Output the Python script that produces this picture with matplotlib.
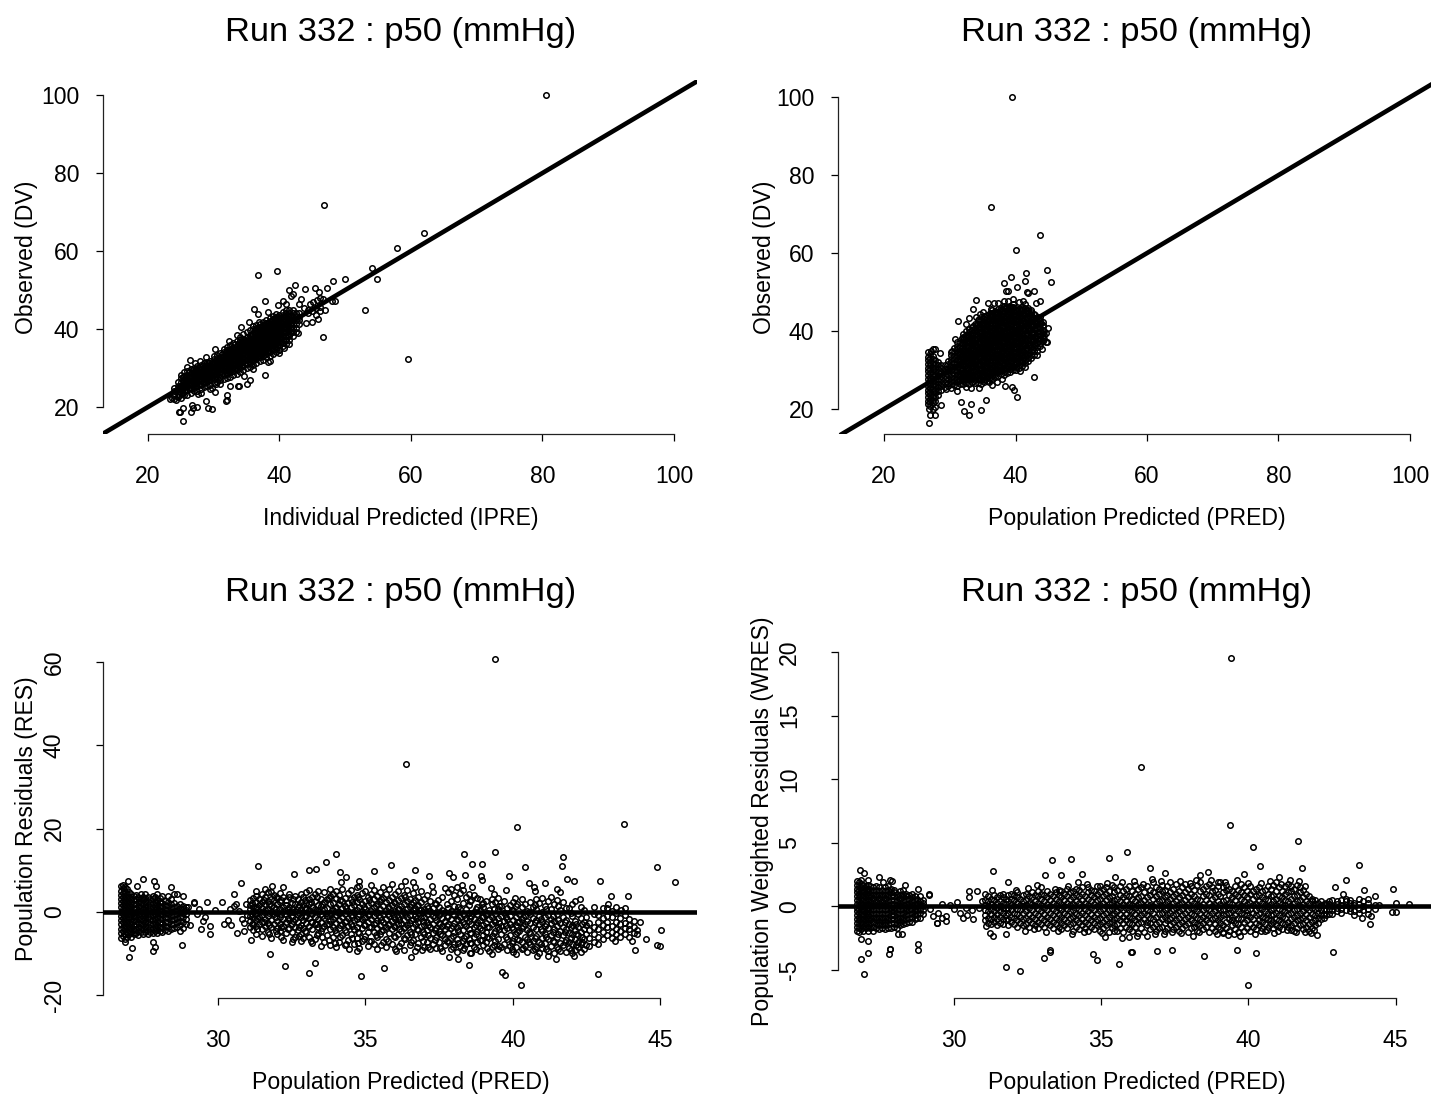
import matplotlib
matplotlib.use("Agg")
import matplotlib.pyplot as plt

plt.rcParams['font.family'] = ['Liberation Sans', 'DejaVu Sans']
plt.rcParams['axes.unicode_minus'] = False

W, H = 1431, 1097
TITLE = "Run 332 : p50 (mmHg)"
x_labels = ["Individual Predicted (IPRE)", "Population Predicted (PRED)", "Population Predicted (PRED)", "Population Predicted (PRED)"]
y_labels = ["Observed (DV)", "Observed (DV)", "Population Residuals (RES)", "Population Weighted Residuals (WRES)"]
ticks_xy = [20, 40, 60, 80, 100]
ticks_x_pred = [30, 35, 40, 45]
ticks_res = [-20, 0, 20, 40, 60]
ticks_wres = [-5, 0, 5, 10, 15, 20]

# Panel 1: (IPRE, DV) scattered points
p1_points = [(80.5,100),(46.8,71.7),(36.7,53.8),(39.6,54.9),(42.4,51.3),(41.5,50),(43.9,50.2),(45.4,50.5),(47.2,50.5),(48.1,52.3),(50,52.8),(54.1,55.7),(54.8,52.8),(57.9,60.8),(62,64.7),(53,44.9),(59.5,32.2),(46.6,37.9),(37.8,28.2),(37.8,47.2),(36.1,45.1),(30.2,34.9),(26.4,32),(25.9,30.3),(25.3,16.4),(24.7,18.6),(24.9,18.6),(26.5,18.7),(25.3,19.8),(27.5,20),(26.7,20.5),(26.9,19.8),(28.8,21.5),(29.1,19.7),(29.7,19.5),(32,21.8),(32,23),(31.9,21.5),(30.2,23.9),(29.8,24.8),(32.5,25.4),(33.7,25.4),(33.9,25.4),(35,25.9),(35.5,26.9),(30.9,26),(30.3,26),(41.4,36.2),(40,33.8),(42.8,39),(44,41.5),(44.9,41.8),(45.9,42.6),(46.9,44.9),(48.4,47.2),(48,47.3),(46.6,47.7),(43.3,47.7),(41.8,48.5),(42,49),(46,49.5),(45.7,47.5),(46.2,47.9),(45.1,47),(44.6,46.5),(45.6,45.4),(46.1,44.5),(46.2,45.6),(45,44.6),(44.3,44),(45.6,43.6),(43,46.4),(43.8,45.5),(44.4,45),(39.8,46.1),(40.6,47.2),(41,46.4),(38.2,44.4),(36.7,43.8),(36.9,41.9),(35.4,41.9),(34.2,40.5),(33.5,38.5),(32.3,36.8),(28.8,32.8),(27.9,31.7),(27.2,31.4),(23.3,22),(23.6,22.3),(24.2,21.8),(28,23.6),(29.4,24.7),(27.6,23.4),(38.2,31.5),(38.6,31.8),(39.9,34.6),(40.7,35.2),(36,29.8),(34.6,28)]
# Panel 1 dense band: IPRE value, then the DV values at it
p1_band = [
(24.0,[22.1,23.0,24.1,25.0]),(24.5,[22.6,23.4,24.6,25.5,26.4]),(25.0,[22.4,23.5,24.3,25.4,26.3,27.4,28.3]),
(25.5,[23.1,24.0,25.1,25.9,27.0,27.9,28.9]),(26.0,[23.2,24.4,25.3,26.4,27.2,28.3,29.3]),(26.5,[23.6,24.6,25.7,26.6,27.7,28.6,29.8]),
(27.0,[24.1,25.0,26.1,27.0,28.1,29.0,30.1]),(27.5,[24.2,25.4,26.4,27.4,28.4,29.4,30.4]),(28.0,[24.6,25.7,26.7,27.7,28.7,29.7,30.8]),
(28.5,[25.1,26.1,27.1,28.1,29.1,30.1,31.2]),(29.0,[25.3,26.4,27.4,28.4,29.4,30.4,31.5]),(29.5,[25.7,26.8,27.8,28.8,29.8,30.8,31.9]),
(30.0,[26.1,27.2,28.2,29.2,30.2,31.2,32.2,33.0]),(30.5,[26.3,27.5,28.5,29.5,30.5,31.5,32.5,33.4]),(31.0,[26.8,27.8,28.9,29.9,30.9,31.9,32.9,33.9]),
(31.5,[27.1,28.2,29.2,30.2,31.2,32.2,33.2,34.2,35.0]),(32.0,[27.4,28.5,29.6,30.6,31.6,32.6,33.6,34.6,35.4]),(32.5,[27.7,28.9,29.9,30.9,31.9,32.9,33.9,34.9,35.9]),
(33.0,[28.1,29.2,30.3,31.3,32.3,33.3,34.3,35.3,36.3]),(33.5,[28.4,29.6,30.6,31.6,32.6,33.6,34.6,35.6,36.8]),(34.0,[29.1,30.1,31.1,32.1,33.1,34.1,35.1,36.1,37.1,37.9]),
(34.5,[29.6,30.5,31.5,32.5,33.5,34.5,35.5,36.5,37.5,38.7]),(35.0,[30.1,31.0,32.0,33.0,34.0,35.0,36.0,37.0,38.0,39.2]),(35.5,[30.3,31.4,32.4,33.4,34.4,35.4,36.4,37.4,38.4,39.8]),
(36.0,[30.7,31.8,32.8,33.8,34.8,35.8,36.8,37.8,38.8,39.9,40.8]),(36.5,[31.2,32.2,33.2,34.2,35.2,36.2,37.2,38.2,39.2,40.2,41.0]),(37.0,[31.7,32.7,33.7,34.7,35.7,36.7,37.7,38.7,39.7,40.6,41.4]),
(37.5,[32.1,33.1,34.1,35.1,36.1,37.1,38.1,39.1,40.1,41.0,41.9]),(38.0,[32.7,33.6,34.6,35.6,36.6,37.6,38.6,39.6,40.6,41.5,42.4]),(38.5,[33.2,34.1,35.1,36.1,37.1,38.1,39.1,40.1,41.1,42.0,42.9]),
(39.0,[33.6,34.6,35.6,36.6,37.6,38.6,39.6,40.6,41.6,42.5,43.4]),(39.5,[34.1,35.1,36.1,37.1,38.1,39.1,40.1,41.1,42.1,43.0,43.9]),(40.0,[34.6,35.6,36.6,37.6,38.6,39.6,40.6,41.6,42.6,43.6]),
(40.5,[35.6,36.5,37.5,38.5,39.5,40.5,41.5,42.5,43.5,44.4]),(41.0,[36.2,37.2,38.2,39.2,40.2,41.2,42.2,43.2,44.2,44.9]),(41.5,[37.1,38.1,39.1,40.1,41.1,42.1,43.1,44.1,45.0]),
(42.0,[38.2,39.2,40.2,41.2,42.2,43.2,44.2,44.9]),(42.5,[39.3,40.3,41.3,42.3,43.3,44.0]),(43.0,[41.2,42.2,43.2,44.1]),
(24.7,[23.0,24.0,25.1]),(25.3,[23.7,24.8,25.7,26.7,27.6]),(25.8,[24.4,25.6,26.7,27.6]),(26.3,[24.9,26.0,27.0,28.0,29.0]),(26.8,[25.3,26.4,27.4,28.4,29.4]),(27.3,[25.7,26.7,27.8,28.8,29.8]),(27.8,[26.0,27.1,28.1,29.1,30.1]),(28.3,[26.5,27.5,28.5,29.5,30.5]),(28.8,[26.9,27.9,28.9,29.9,30.9]),(29.3,[27.2,28.2,29.2,30.2,31.2]),(29.8,[27.6,28.6,29.6,30.6,31.6]),(30.3,[28.0,29.0,30.0,31.0,32.0]),(30.8,[28.4,29.4,30.4,31.4,32.4]),(31.3,[28.7,29.7,30.7,31.7,32.7,33.7]),(31.8,[29.1,30.1,31.1,32.1,33.1,34.1]),(32.3,[29.4,30.4,31.4,32.4,33.4,34.4]),(32.8,[29.8,30.8,31.8,32.8,33.8,34.8]),(33.3,[30.1,31.1,32.1,33.1,34.1,35.1,36.1]),(33.8,[30.4,31.4,32.4,33.4,34.4,35.4,36.4]),(34.3,[30.8,31.8,32.8,33.8,34.8,35.8,36.8]),(34.8,[31.3,32.3,33.3,34.3,35.3,36.3,37.3]),(35.3,[31.8,32.8,33.8,34.8,35.8,36.8,37.8]),(35.8,[32.3,33.3,34.3,35.3,36.3,37.3,38.3]),(36.3,[32.7,33.7,34.7,35.7,36.7,37.7,38.7,39.7]),(36.8,[33.2,34.2,35.2,36.2,37.2,38.2,39.2,40.2]),(37.3,[33.6,34.6,35.6,36.6,37.6,38.6,39.6,40.6]),(37.8,[34.1,35.1,36.1,37.1,38.1,39.1,40.1,41.1]),(38.3,[34.6,35.6,36.6,37.6,38.6,39.6,40.6,41.6]),(38.8,[35.1,36.1,37.1,38.1,39.1,40.1,41.1,42.1]),(39.3,[35.6,36.6,37.6,38.6,39.6,40.6,41.6,42.6]),(39.8,[36.1,37.1,38.1,39.1,40.1,41.1,42.1,43.1]),(40.3,[36.7,37.7,38.7,39.7,40.7,41.7,42.7]),(40.8,[37.3,38.3,39.3,40.3,41.3,42.3,43.3]),(41.3,[38.4,39.4,40.4,41.4,42.4,43.4]),(41.8,[39.3,40.3,41.3,42.3,43.3]),
]

# Panel 2: (PRED, DV) scattered points
p2_points = [(39.4,100),(36.3,71.7),(43.65,64.7),(40.04,60.7),(44.76,55.7),(45.37,52.7),(41.62,55),(41.52,52.8),(39.28,53.9),(38.27,52.4),(40.3,51.4),(38.8,50.4),(38.5,50.2),(42.84,50.4),(41.7,50),(41.9,49.7),(33.95,48),(31.26,42.6),(30.75,37.9),(33.5,45.6),(32.99,43.3),(32.48,41.7),(34.05,43.6),(35.78,47.2),(43.8,47.7),(43.14,47.2),(44.92,40.7),(44.82,37.1),(44.7,37.2),(44.05,35.3),(42.79,28.1),(26.9,16.5),(27,18.5),(27.76,18.5),(28.72,21.1),(26.8,19.9),(27.4,20),(27.8,20.5),(31.67,21.8),(33.19,21.4),(35.58,22.2),(32.18,19.4),(33,18.6),(34.77,19.7),(40.2,23),(39.54,25.6),(39.7,24.9),(38.42,25.9),(36.44,26.1),(31.11,24.6),(33.19,25.5),(34.5,25.5),(32.4,25.6),(26.74,34.6),(27.4,35.5),(27.76,35.5),(28.52,34.4),(27.1,34.8),(30.3,35),(31.82,38.3),(32.18,38.3),(36.8,47.3),(37.4,47.3),(38.2,47.6),(38.8,47.8),(39.6,48.3),(40.5,47.5),(41.2,47.8),(41.5,47),(41.9,46),(42.3,45.3),(35.0,45),(34.6,44.5),(43.9,42),(44.2,41.5),(44.6,39.5),(36.2,45.6),(37.0,44.8),(43.3,33.8),(41.4,30.8),(40.7,29.7),(37.2,27),(38.0,27.6),(35.9,26.9),(30.2,25.3),(29.4,25.1)]
# Panel 2 dense body: PRED value, then the DV values at it
p2_body = [
(26.75,[21.2,22.1,23.0,24.0,24.9,25.9,26.8,27.8,28.7,29.7,30.6,31.6,32.5,33.4]),(27.05,[20.8,21.7,22.6,23.6,24.5,25.5,26.4,27.4,28.3,29.3,30.2,31.2,32.1,33.1,34.0]),
(27.4,[21.5,22.4,23.3,24.3,25.2,26.2,27.1,28.1,29.0,30.0,30.9,31.9,32.8,33.6]),(27.75,[22.0,23.0,24.0,24.9,25.9,26.8,27.8,28.7,29.7,30.6,31.6,32.5]),
(28.2,[23.7,24.6,25.6,26.5,27.5,28.4,29.4,30.3,31.2,32.0]),(28.7,[24.8,25.8,26.7,27.7,28.6,29.6,30.5,31.3]),(29.2,[25.7,26.6,27.6,28.5,29.5,30.4,31.2]),
(29.7,[25.9,26.8,27.8,28.7,29.7,30.6,31.5,32.4]),(30.2,[26.3,27.2,28.2,29.1,30.1,31.0,32.0,32.9,33.8,34.6]),(30.65,[26.2,27.1,28.0,29.0,29.9,30.9,31.8,32.8,33.7,34.7,35.6]),
(31.1,[26.0,26.9,27.8,28.8,29.7,30.7,31.6,32.6,33.5,34.5,35.4,36.3,37.1]),(31.55,[26.5,27.4,28.4,29.3,30.3,31.2,32.2,33.1,34.1,35.0,36.0,36.9]),
(32.0,[26.3,27.2,28.1,29.1,30.0,31.0,31.9,32.9,33.8,34.8,35.7,36.7,37.6,38.4,39.2]),(32.45,[26.7,27.6,28.6,29.5,30.5,31.4,32.4,33.3,34.3,35.2,36.2,37.1,38.1,39.0,39.9]),
(32.9,[26.5,27.4,28.3,29.3,30.2,31.2,32.1,33.1,34.0,35.0,35.9,36.9,37.8,38.8,39.7,40.6]),(33.35,[26.9,27.9,28.8,29.8,30.7,31.7,32.6,33.6,34.5,35.5,36.4,37.4,38.3,39.3,40.2,41.1]),
(33.8,[26.6,27.5,28.5,29.4,30.4,31.3,32.3,33.2,34.2,35.1,36.1,37.0,38.0,38.9,39.9,40.8,41.7]),(34.25,[26.8,27.7,28.7,29.6,30.6,31.5,32.5,33.4,34.4,35.3,36.3,37.2,38.2,39.1,40.1,41.0,41.9,42.8]),
(34.7,[26.5,27.4,28.4,29.3,30.3,31.2,32.2,33.1,34.1,35.0,36.0,36.9,37.9,38.8,39.8,40.7,41.7,42.6,43.5]),(35.15,[26.9,27.8,28.8,29.7,30.7,31.6,32.6,33.5,34.5,35.4,36.4,37.3,38.3,39.2,40.2,41.1,42.1,43.0,43.9]),
(35.6,[27.3,28.2,29.2,30.1,31.1,32.0,33.0,33.9,34.9,35.8,36.8,37.7,38.7,39.6,40.6,41.5,42.5,43.4,44.2]),(36.05,[27.8,28.7,29.6,30.6,31.5,32.5,33.4,34.4,35.3,36.3,37.2,38.2,39.1,40.1,41.0,42.0,42.9,43.9,44.7]),
(36.5,[27.6,28.6,29.5,30.5,31.4,32.4,33.3,34.3,35.2,36.2,37.1,38.1,39.0,40.0,40.9,41.9,42.8,43.8,44.7,45.5]),(36.95,[28.2,29.1,30.1,31.0,32.0,32.9,33.9,34.8,35.8,36.7,37.7,38.6,39.6,40.5,41.5,42.4,43.4,44.3,45.2]),
(37.4,[28.5,29.4,30.4,31.3,32.3,33.2,34.2,35.1,36.1,37.0,38.0,38.9,39.9,40.8,41.8,42.7,43.7,44.6,45.6]),(37.85,[28.9,29.9,30.8,31.8,32.7,33.7,34.6,35.6,36.5,37.5,38.4,39.4,40.3,41.3,42.2,43.2,44.1,45.1,46.0]),
(38.3,[28.7,29.6,30.6,31.5,32.5,33.4,34.4,35.3,36.3,37.2,38.2,39.1,40.1,41.0,42.0,42.9,43.9,44.8,45.8,46.5]),(38.75,[29.2,30.2,31.1,32.1,33.0,34.0,34.9,35.9,36.8,37.8,38.7,39.7,40.6,41.6,42.5,43.5,44.4,45.4,46.3]),
(39.2,[29.5,30.4,31.4,32.3,33.3,34.2,35.2,36.1,37.1,38.0,39.0,39.9,40.9,41.8,42.8,43.7,44.7,45.6,46.5]),(39.65,[29.9,30.9,31.8,32.8,33.7,34.7,35.6,36.6,37.5,38.5,39.4,40.4,41.3,42.3,43.2,44.2,45.1,46.1,46.9]),
(40.1,[29.9,30.9,31.8,32.8,33.7,34.7,35.6,36.6,37.5,38.5,39.4,40.4,41.3,42.3,43.2,44.2,45.1,46.0]),(40.55,[30.5,31.4,32.4,33.3,34.3,35.2,36.2,37.1,38.1,39.0,40.0,40.9,41.9,42.8,43.8,44.7,45.6]),
(41.0,[31.0,32.0,32.9,33.9,34.8,35.8,36.7,37.7,38.6,39.6,40.5,41.5,42.4,43.4,44.3,45.3,46.1]),(41.45,[31.7,32.6,33.6,34.5,35.5,36.4,37.4,38.3,39.3,40.2,41.2,42.1,43.1,44.0,45.0,45.8]),
(41.9,[32.3,33.2,34.2,35.1,36.1,37.0,38.0,38.9,39.9,40.8,41.8,42.7,43.7,44.6,45.4]),(42.35,[33.0,33.9,34.9,35.8,36.8,37.7,38.7,39.6,40.6,41.5,42.5,43.4,44.4,45.0]),
(42.8,[33.9,34.8,35.8,36.7,37.7,38.6,39.6,40.5,41.5,42.4,43.4,44.3]),(43.25,[35.0,36.0,36.9,37.9,38.8,39.8,40.7,41.7,42.6,43.5]),(43.7,[36.1,37.0,38.0,38.9,39.9,40.8,41.8,42.7,43.6]),
(44.15,[37.5,38.5,39.4,40.4,41.3,42.3]),
(33.1,[27.9,29.8,31.6,33.5,35.4,37.3,39.2]),(33.6,[28.1,30.0,31.8,33.7,35.6,37.5,39.4,41.3]),(34.0,[28.2,30.1,32.0,33.9,35.8,37.7,39.6,41.5]),(34.5,[28.0,29.9,31.8,33.7,35.6,37.5,39.4,41.3,43.0]),(34.9,[28.3,30.2,32.1,34.0,35.9,37.8,39.7,41.6]),(35.4,[28.6,30.5,32.4,34.3,36.2,38.1,40.0,41.9,43.6]),(35.8,[29.0,30.9,32.8,34.7,36.6,38.5,40.4,42.3]),(36.3,[29.1,31.0,32.9,34.8,36.7,38.6,40.5,42.4,44.3]),(36.7,[29.5,31.4,33.3,35.2,37.1,39.0,40.9,42.8,44.6]),(37.2,[29.8,31.7,33.6,35.5,37.4,39.3,41.2,43.1,45.0]),(37.6,[30.1,32.0,33.9,35.8,37.7,39.6,41.5,43.4,45.3]),(38.1,[30.2,32.1,34.0,35.9,37.8,39.7,41.6,43.5,45.4]),(38.5,[30.6,32.5,34.4,36.3,38.2,40.1,42.0,43.9,45.9]),(39.0,[30.9,32.8,34.7,36.6,38.5,40.4,42.3,44.2,46.1]),(39.4,[31.1,33.0,34.9,36.8,38.7,40.6,42.5,44.4,46.2]),(39.9,[31.4,33.3,35.2,37.1,39.0,40.9,42.8,44.7]),(40.3,[31.9,33.8,35.7,37.6,39.5,41.4,43.3,45.2]),(40.8,[32.4,34.3,36.2,38.1,40.0,41.9,43.8,45.6]),(41.2,[33.0,34.9,36.8,38.7,40.6,42.5,44.4]),(41.7,[33.8,35.7,37.6,39.5,41.4,43.3,45.1]),(42.1,[34.5,36.4,38.3,40.2,42.1,44.0]),(42.6,[35.5,37.4,39.3,41.2,43.1]),(43.0,[36.4,38.3,40.2,42.1,44.0]),(43.5,[37.5,39.4,41.3,43.0]),(44.4,[38.0,39.1,40.0]),(31.3,[27.1,29.0,30.9,32.8,34.7]),(31.8,[27.4,29.3,31.2,33.1,35.0,36.9]),(32.2,[27.7,29.6,31.5,33.4,35.3,37.2]),(32.7,[28.0,29.9,31.8,33.7,35.6,37.5,39.0]),
]

# Panel 3: (PRED, RES) scattered points
p3_points = [(39.4,60.7),(36.38,35.5),(26.94,7.5),(27.24,6.2),(27.47,7.8),(27.83,7.5),(27.9,6.3),(28.4,5.9),(26.98,-10.8),(27.08,-8.7),(26.83,-7.2),(27.78,-9.4),(27.85,-8.4),(27.78,-7.3),(28.77,-7.9),(29.73,-5.3),(29.73,-3.4),(29.42,-4.2),(29.62,2.3),(29.17,2.5),(29.2,2.2),(30.12,2.3),(30.54,4.3),(30.77,6.9),(31.36,11.1),(31.84,6.3),(32.21,6),(32.58,9),(33.1,10.1),(33.34,10.4),(33.65,11.9),(34.02,13.9),(34.14,9.5),(34.36,8.3),(34.16,7.1),(34.77,7.4),(35.29,9.9),(35.88,11.3),(31.78,-10.2),(32.26,-13),(33.08,-14.7),(33.3,-12.2),(34.85,-15.3),(35.63,-13.5),(36.05,-9.4),(34.72,-9.4),(34.45,-8.9),(30.64,-5),(30.89,-4.5),(31.11,-6.7),
(40.16,20.5),(43.78,21),(38.35,13.9),(39.39,14.5),(38.63,11.4),(38.97,11.4),(36.67,10.1),(37.84,9.3),(37.96,8.3),(37.16,8.6),(38.37,8.9),(38.92,8.6),(38.96,7.6),(39.88,8.6),(40.41,10.8),(41.71,13.2),(41.67,11),(41.85,7.9),(42.07,7.5),(41.08,7),(40.55,7),(42.96,7.4),(44.9,10.8),(45.49,7.2),(43.33,3.8),(43.92,3.8),(43.23,1.8),(42.29,3.2),(43.67,0.5),(39.78,5.3),(39.27,5.8),(39.38,4.3),(40.08,3.3),(40.73,5.9),(40.77,5),(41.49,5.6),(41.61,4.8),(36.34,7.4),(36.6,7.2),(37.25,6.2),(37.46,2.9),(38.27,6.5),(38.63,5.9),(38.8,3.4),
(36.55,-10.8),(36.93,-9.1),(38.5,-12.8),(39.64,-14.5),(39.75,-15.1),(40.29,-17.5),(42.9,-15),(44.14,-9.1),(44.89,-7.9),(45.01,-8.1),(45.03,-4.4),(44.52,-6.4),(44.32,-2.3),(44.04,-7),(43.48,-7),(37.83,-10.8),(38.14,-11.2),(38.54,-9.9),(39.31,-10.2),(40.12,-10.2),(40.83,-10.6),(41.47,-11.2),(42.09,-10.6),(41.2,-10.5),
(29.9,0.4),(30.2,-2.8),(30.35,-1.9),(29.55,-1.1),(29.3,-0.6),(29.0,1.3),(29.05,-3.2),(29.35,0.6),(29.5,-2.2),(30.4,0.8),(30.55,1.5),(30.7,0.3),(30.45,-3.1),(30.8,-1.6),(30.95,1.8),(30.9,-2.6),(30.62,1.9),(31.0,-0.7)]
# Panel 3 body: PRED value, then the RES values at it
p3_body = [
(26.72,[-6.2,-5.1,-4.0,-3.0,-2.0,-1.0,0.1,1.1,2.1,3.1,4.0,5.1,6.2]),(26.78,[-5.7,-4.6,-3.5,-2.5,-1.4,-0.5,0.6,1.6,2.6,3.6,4.6,5.7,6.5]),(26.84,[-6.5,-5.4,-4.2,-3.2,-2.2,-1.2,-0.1,0.9,1.9,2.9,3.9,4.9,5.9]),
(26.9,[-5.9,-4.8,-3.7,-2.7,-1.6,-0.6,0.4,1.4,2.4,3.4,4.4,5.4]),(26.98,[-5.4,-4.4,-3.4,-2.3,-1.3,-0.3,0.7,1.7,2.7,3.7,4.7]),(27.06,[-6.0,-4.9,-3.8,-2.8,-1.8,-0.8,0.2,1.2,2.2,3.2,4.2]),
(27.14,[-5.3,-4.3,-3.3,-2.2,-1.2,-0.2,0.8,1.8,2.8,3.8]),(27.22,[-5.1,-4.1,-3.0,-2.0,-1.0,0.0,1.0,2.0,3.0,4.1]),(27.3,[-5.6,-4.6,-3.6,-2.5,-1.5,-0.5,0.5,1.5,2.5,3.5]),
(27.38,[-4.9,-3.9,-2.8,-1.8,-0.8,0.2,1.2,2.2,3.2,4.3]),(27.46,[-5.2,-4.2,-3.2,-2.2,-1.2,-0.2,0.8,1.8,2.8,3.7]),(27.54,[-4.7,-3.7,-2.7,-1.7,-0.7,0.3,1.3,2.3,3.3,4.4]),
(27.62,[-5.4,-4.4,-3.3,-2.3,-1.3,-0.3,0.7,1.7,2.7,3.6]),(27.7,[-4.8,-3.8,-2.8,-1.8,-0.8,0.2,1.2,2.2,3.1]),(27.78,[-5.0,-4.0,-3.0,-2.0,-1.0,0.0,1.0,2.0,3.0,3.9]),
(27.86,[-4.6,-3.6,-2.6,-1.6,-0.6,0.4,1.4,2.4,3.5]),(27.94,[-5.1,-4.1,-3.1,-2.1,-1.1,-0.1,0.9,1.9,2.9,4.2]),(28.02,[-4.5,-3.5,-2.5,-1.5,-0.5,0.5,1.5,2.5,3.3]),
(28.1,[-4.8,-3.8,-2.8,-1.8,-0.8,0.2,1.2,2.2,3.8]),(28.2,[-4.3,-3.3,-2.3,-1.3,-0.3,0.7,1.7,2.7]),(28.3,[-4.6,-3.5,-2.5,-1.5,-0.5,0.5,1.5,2.4,3.9]),
(28.4,[-4.0,-3.0,-2.0,-1.0,0.0,1.0,2.0,3.1]),(28.5,[-3.8,-2.8,-1.8,-0.8,0.2,1.2,2.2,4.2]),(28.6,[-3.5,-2.5,-1.5,-0.5,0.5,1.5,4.2]),
(28.7,[-4.6,-3.1,-2.1,-1.1,-0.1,0.9,1.8]),(28.8,[-3.9,-2.3,-1.3,-0.3,0.7,1.4,3.9]),(28.9,[-2.8,-1.6,-0.6,0.4,1.2]),
(31.1,[-3.5,-2.1,-0.9,0.6,1.7,2.9]),(31.2,[-4.4,-2.8,-1.4,0.2,1.3,3.4]),(31.3,[-5.2,-3.4,-1.9,-0.5,0.9,2.3,3.8,5.1]),(31.4,[-3.0,-1.2,0.3,1.6,3.1]),(31.5,[-5.8,-4.1,-2.4,-0.7,1.0,2.4,4.3]),(31.6,[-3.4,-1.7,0.5,1.9,3.5,5.4]),(31.7,[-4.7,-2.7,-1.0,0.8,2.6,4.8]),(31.8,[-6.2,-3.7,-1.9,0.1,1.5,3.2,4.9]),(31.9,[-2.9,-0.6,1.1,2.8,4.1]),
(32.0,[-5.3,-3.9,-2.1,-0.3,1.8,3.4]),(32.1,[-4.6,-2.8,-1.1,0.7,2.3,4.6]),(32.2,[-6.8,-3.3,-1.6,0.2,1.3,3.7]),(32.3,[-5.0,-2.3,-0.4,1.6,2.9]),(32.4,[-3.9,-2.0,0.0,1.1,3.5,4.4]),(32.5,[-7.3,-4.8,-2.9,-1.2,0.6,2.2]),(32.6,[-6.1,-3.5,-1.7,0.3,1.8,3.9]),(32.7,[-4.3,-2.4,-0.8,1.2,3.0]),(32.8,[-7.0,-5.3,-3.1,-1.3,0.7,2.5,4.2]),(32.9,[-6.3,-3.8,-2.0,0.1,1.6,3.5]),
(33.0,[-4.8,-2.7,-0.9,0.9,2.2,4.8]),(33.1,[-5.9,-3.4,-1.5,0.4,1.9,3.1,5.2]),(33.2,[-7.5,-4.2,-2.3,-0.6,1.3,3.6]),(33.3,[-6.6,-3.0,-1.1,0.8,2.6,4.4]),(33.4,[-5.1,-3.7,-1.8,0.2,1.7,5.0]),(33.5,[-8.2,-4.5,-2.5,-0.5,1.4,3.2]),(33.6,[-7.1,-3.3,-1.4,0.6,2.4,4.7]),(33.7,[-5.6,-2.9,-0.9,1.0,3.0]),(33.8,[-7.9,-4.0,-2.1,-0.2,1.8,3.8,5.6]),(33.9,[-6.0,-3.5,-1.6,0.5,2.2,4.3]),
(34.0,[-8.4,-5.0,-2.7,-0.7,1.2,3.4,5.0]),(34.1,[-7.2,-3.9,-1.9,0.0,1.9,4.0]),(34.2,[-5.5,-3.0,-1.2,0.9,2.7,5.4]),(34.3,[-8.0,-4.4,-2.4,-0.4,1.5,3.3]),(34.4,[-6.7,-3.4,-1.5,0.3,2.1,4.5]),(34.5,[-5.2,-2.8,-0.8,1.1,3.0,5.2]),(34.6,[-7.7,-4.1,-2.0,-0.1,1.7,3.7]),(34.7,[-6.3,-3.6,-1.7,0.4,2.4,4.1,5.9]),(34.8,[-8.6,-5.0,-2.6,-0.6,1.3,3.2,6.2]),(34.9,[-7.0,-3.8,-1.8,0.2,2.0,4.6]),
(35.0,[-5.8,-3.1,-1.2,0.8,2.7,5.0]),(35.1,[-8.2,-4.7,-2.5,-0.5,1.6,3.5]),(35.2,[-6.9,-3.5,-1.6,0.3,2.2,4.3,6.5]),(35.3,[-7.6,-4.9,-2.9,-0.9,1.1,3.1,5.3]),(35.4,[-8.9,-6.1,-3.9,-1.9,0.1,2.0,3.9]),(35.5,[-5.4,-3.2,-1.3,0.6,2.6,4.7]),(35.6,[-7.3,-4.4,-2.4,-0.4,1.5,3.4,6.0]),(35.7,[-8.5,-6.4,-3.6,-1.6,0.4,2.3,4.2]),(35.8,[-5.0,-2.9,-1.0,0.9,2.9,5.5]),(35.9,[-7.8,-4.2,-2.2,-0.3,1.7,3.7,6.7]),
(36.0,[-8.8,-6.0,-3.7,-1.7,0.2,2.1,4.4]),(36.1,[-5.2,-3.0,-1.1,0.8,2.8,5.0]),(36.2,[-7.5,-4.6,-2.6,-0.6,1.4,3.3,6.3]),(36.3,[-9.1,-6.3,-3.8,-1.9,0.0,2.0,4.1]),(36.4,[-5.5,-3.2,-1.3,0.7,2.6,5.3]),(36.5,[-8.0,-4.7,-2.7,-0.8,1.2,3.1]),(36.6,[-6.8,-3.6,-1.6,0.4,2.3,4.5]),(36.7,[-9.3,-5.4,-3.0,-1.0,0.9,2.9,6.0]),(36.8,[-7.4,-4.3,-2.3,-0.3,1.6,3.6]),(36.9,[-6.1,-3.4,-1.5,0.5,2.4,5.0]),
(37.0,[-8.3,-5.2,-3.1,-1.1,0.8,3.0]),(37.1,[-7.2,-4.4,-2.4,-0.5,1.5,4.0]),(37.2,[-9.0,-6.3,-3.5,-1.6,0.3,2.7]),(37.3,[-7.7,-5.1,-2.8,-0.9,1.0,4.7]),(37.4,[-8.6,-6.0,-3.9,-2.0,-0.2,2.0]),(37.5,[-7.1,-4.6,-2.6,-0.7,1.2]),(37.6,[-9.4,-5.6,-3.3,-1.4,0.5,3.6]),(37.7,[-8.0,-6.4,-4.1,-2.1,-0.1,5.8]),(37.8,[-7.3,-5.0,-2.9,-1.0,0.9,4.9]),(37.9,[-8.9,-6.2,-3.8,-1.8,0.3,2.6,5.5]),
(38.0,[-7.6,-4.7,-2.7,-0.8,1.5,4.1]),(38.1,[-9.6,-6.6,-3.6,-1.6,0.2,3.2,5.9]),(38.2,[-8.2,-5.4,-3.1,-1.2,0.7,4.6]),(38.3,[-9.1,-7.0,-4.4,-2.3,-0.4,2.2,5.3]),(38.4,[-7.8,-5.7,-3.4,-1.4,0.6,3.5]),(38.5,[-6.5,-4.1,-2.1,-0.2,1.6,4.3]),(38.6,[-9.8,-7.4,-5.0,-2.9,-1.0,2.8]),(38.7,[-8.4,-6.0,-3.7,-1.7,0.1,4.0]),(38.8,[-7.1,-4.6,-2.5,-0.6,1.3]),(38.9,[-9.3,-6.7,-3.9,-1.9,0.4,3.0]),
(39.0,[-8.0,-5.5,-3.2,-1.3,1.1,2.2]),(39.1,[-7.2,-4.8,-2.6,-0.7,2.7]),(39.2,[-9.4,-6.2,-3.7,-1.6,0.5]),(39.3,[-8.3,-5.8,-3.0,-1.1,1.8,3.1]),(39.4,[-7.0,-4.5,-2.4,-0.5,2.3]),(39.5,[-9.0,-6.6,-3.6,-1.5,0.7,3.4]),(39.6,[-8.5,-5.3,-3.3,-0.9,1.5]),(39.7,[-7.6,-4.4,-2.2,-0.2,2.6]),(39.8,[-9.2,-6.4,-3.9,-1.7,0.9]),(39.9,[-8.1,-5.6,-2.9,-1.0,1.7]),
(40.0,[-9.7,-7.0,-4.2,-2.0,0.2,2.5]),(40.1,[-8.4,-5.4,-3.2,-1.2,1.4]),(40.2,[-6.7,-4.6,-2.5,-0.4]),(40.3,[-9.0,-7.3,-3.8,-1.6,1.1,3.2]),(40.4,[-8.2,-5.9,-3.0,-0.9,1.8]),(40.5,[-9.5,-6.5,-4.3,-2.2,0.3]),(40.6,[-7.7,-5.1,-2.7,-0.6,2.4]),(40.7,[-9.2,-6.9,-3.5,-1.4,1.2]),(40.8,[-8.4,-5.7,-4.0,-2.0,0.6,3.1]),(40.9,[-9.8,-7.1,-3.0,-1.0,2.1]),
(41.0,[-8.7,-6.2,-4.5,-2.4,0.1,3.3]),(41.1,[-7.4,-5.2,-3.3,-1.3,1.5]),(41.2,[-9.4,-6.6,-3.8,-0.7,2.6]),(41.3,[-8.1,-5.5,-2.7,-1.6,0.8,3.5]),(41.4,[-9.9,-7.2,-4.1,-2.2,1.9]),(41.5,[-8.5,-6.0,-3.3,-0.5,2.9]),(41.6,[-9.3,-7.4,-4.6,-2.6,0.5]),(41.7,[-8.0,-5.6,-3.6,-1.1,2.3]),(41.8,[-9.6,-6.8,-4.2,-1.9,1.0]),(41.9,[-8.6,-7.1,-5.0,-2.9,0.9]),
(42.0,[-9.9,-7.6,-5.4,-3.2,-1.0,1.8]),(42.1,[-9.2,-6.4,-4.3,-2.1,2.6]),(42.2,[-8.3,-7.2,-5.5,-3.5,-0.6]),(42.3,[-9.5,-7.8,-4.8,-1.4,1.2]),(42.4,[-8.8,-6.6,-4.0,-2.5,0.4]),(42.5,[-7.9,-5.2,-3.2,-1.1]),(42.6,[-8.2,-6.2,-4.4,-2.7]),(42.75,[-7.3,-5.4,-3.6,-0.4,1.3]),(42.9,[-7.7,-6.1,-4.1,-2.3,-0.8]),(43.05,[-6.4,-4.7,-3.1,-1.4,0.9]),
(43.2,[-5.6,-3.6,-2.3,-0.9,1.0]),(43.35,[-6.3,-4.9,-3.3,-1.2,0.3]),(43.5,[-5.4,-4.0,-2.4,-0.3,1.3]),(43.65,[-6.1,-4.5,-2.9,-1.5]),(43.8,[-5.3,-3.9,-2.6,-0.7,0.9]),(43.95,[-5.9,-4.2,-3.1,-1.8]),(44.1,[-5.0,-3.7,-2.2]),(44.2,[-5.4,-4.4]),
(31.16,[-3.0,-0.4,2.1]),(31.34,[-4.1,-1.5,1.1]),(31.56,[-2.3,0.1,2.9]),(31.74,[-5.4,-3.2,-0.3,1.8]),(31.96,[-4.5,-1.3,0.6,3.7]),(32.14,[-5.9,-3.5,-0.5,2.8]),(32.36,[-4.2,-1.4,0.8]),(32.54,[-6.4,-2.2,-0.1,3.2]),(32.76,[-5.8,-3.7,-0.2,1.7]),(32.96,[-4.5,-1.2,0.6,2.9]),(33.14,[-6.9,-2.5,-0.3,2.5]),(33.36,[-5.6,-2.9,0.4,3.6]),(33.54,[-6.1,-3.8,-1.0,1.9]),(33.76,[-6.7,-3.0,-0.6,3.4]),(33.96,[-7.4,-4.4,-1.2,0.9]),(34.14,[-5.9,-3.2,-0.3,2.9]),(34.36,[-7.6,-4.9,-2.1,1.0]),(34.54,[-6.2,-3.4,-1.3,2.3]),(34.76,[-7.4,-4.7,-0.9,3.6]),(34.96,[-6.4,-3.1,-1.4,1.1]),
(35.14,[-7.0,-3.7,-0.8,2.9]),(35.36,[-5.5,-2.7,-0.2,1.5]),(35.54,[-7.9,-4.6,-1.9,3.2]),(35.76,[-6.9,-3.1,-0.5,1.3]),(35.96,[-5.7,-3.4,-1.2,2.5]),(36.14,[-8.1,-4.1,-2.0,0.6]),(36.36,[-6.6,-3.7,-0.4,3.7]),(36.54,[-7.3,-5.3,-1.9,1.9]),(36.76,[-8.3,-4.0,-1.5,1.4]),(36.96,[-7.0,-4.8,-2.2,-0.1]),(37.14,[-8.3,-5.6,-3.2,0.9]),(37.36,[-6.8,-4.4,-1.1,2.2]),(37.54,[-8.6,-5.2,-2.9,-0.3]),(37.76,[-7.0,-3.4,-1.2,1.9]),(37.96,[-8.5,-5.8,-3.3,-0.4]),(38.14,[-7.4,-4.5,-2.0,1.1]),(38.36,[-8.7,-6.2,-3.0,-0.8]),(38.54,[-7.5,-5.0,-1.5,2.6]),(38.76,[-9.0,-5.3,-3.2,0.6]),(38.96,[-6.7,-4.4,-1.1,1.9]),
(39.14,[-8.6,-6.0,-3.5,-0.2]),(39.36,[-7.9,-5.1,-1.9,0.8]),(39.54,[-8.2,-4.1,-2.7,1.4]),(39.76,[-6.0,-3.1,-1.2]),(39.96,[-9.0,-7.5,-3.7,0.4]),(40.14,[-6.5,-4.8,-2.3,2.0]),(40.36,[-8.7,-3.3,-1.1]),(40.54,[-7.2,-4.9,-0.1]),(40.76,[-8.8,-6.3,-2.5,1.6]),(40.96,[-7.6,-4.0,-1.6]),(41.14,[-9.0,-5.9,-2.9,0.7]),(41.36,[-7.0,-4.7,-0.9]),(41.54,[-8.9,-5.2,-2.0,1.4]),(41.76,[-7.2,-4.8,-2.4]),(41.96,[-9.1,-6.3,-3.6,-0.2]),(42.14,[-8.0,-5.3,-3.0]),(42.36,[-7.2,-5.9,-2.9]),
]

# Panel 4: (PRED, WRES) scattered points
p4_points = [(39.4,19.5),(36.35,10.95),(39.37,6.4),(40.15,4.67),
(26.82,2.85),(26.93,2.63),(27.07,2.06),(27.45,2.32),(27.58,1.93),(27.83,2.11),(27.9,2),(28.34,1.72),(28.79,1.38),(29.14,0.93),(29.14,1.0),(26.84,-2.58),(27.09,-2.74),(27.07,-3.63),(26.83,-4.1),(26.96,-5.28),(27.83,-3.31),(27.78,-3.76),(27.84,-3.38),(28.77,-2.97),(28.78,-3.44),(28.22,-2.19),(28.09,-2.19),(29.42,-1.27),(29.43,-1.33),(29.73,-0.77),(29.73,-1.14),(29.3,-0.77),(29.58,0.22),(30.11,0.38),(30.52,1.19),(30.52,0.75),(30.78,1.19),(30.63,-0.98),(30.31,-0.88),(31.05,1),(31.29,1.25),(31.34,2.77),(31.83,1.95),(32.81,1.72),(33.1,2.48),(33.62,2.48),(33.34,3.68),(33.98,3.71),(34.35,2.56),(35.27,3.84),(35.86,4.31),(35.48,2.32),(31.76,-4.78),(32.24,-5.07),(33.06,-4.02),(33.26,-3.44),(33.27,-3.55),(34.72,-3.71),(34.84,-4.23),(35.61,-4.49),(35.12,-2.4),(35.69,-2.5),(35.95,-2.4),(36.0,-3.57),(31.76,-2.16),(31.34,-2.29),(31.22,-2.08),(31.08,-1.53),
(41.69,5.13),(40.38,3.21),(41.82,3),(43.76,3.24),(36.65,3.03),(37.16,2.63),(38.35,2.48),(38.62,2.71),(39.86,2.56),(41.05,2.3),(43.32,2.06),(42.94,1.51),(44.9,1.38),(44.31,0.85),(43.92,1.25),(43.21,0.96),(45.02,0.25),(45.46,0.22),(44.17,-0.74),(44.13,-1.35),(43.84,-0.88),(44.88,-0.43),(45,-0.46),(39.99,-6.17),(36.04,-3.55),(36.89,-3.52),(37.42,-3.44),(38.48,-3.86),(39.62,-3.39),(40.27,-3.63),(42.88,-3.55),(40.22,-2.16),(40.86,-2.11),(41.46,-1.82),(39.31,-2.24),(39.73,-2.34),(42.32,-2.24),(36.55,-2.34),(37.41,-2.03),(38.11,-2.29),
(29.2,-0.2),(29.45,-0.5),(29.85,0.1),(30.0,-0.2),(30.2,-0.5),(30.4,-0.1),(30.6,-0.3),(30.85,-0.1),(30.95,0.4),(29.6,-0.9),(30.45,-0.7),
(32.12,1.3),(32.5,1.42),(32.97,1.5),(33.43,1.33),(33.88,1.6),(34.2,1.9),(34.52,1.75),(34.97,1.62),(35.2,1.86),(35.72,1.95),(36.12,2.02),(36.42,1.76),(36.72,2.16),(37.02,2.0),(37.35,1.9),(37.68,2.0),(38.02,1.85),(38.22,2.05),(38.72,2.08),(38.98,1.9),(39.22,1.95),(39.6,2.1),(40.0,1.85),(40.42,1.82),(40.72,2.0),(41.12,1.8),(41.42,2.1),(41.72,2.0),(41.92,1.58),(33.52,-1.9),(34.02,-2.2),(34.42,-2.05),(35.02,-2.1),(35.42,-1.95),(36.22,-2.3),(36.82,-2.15),(37.12,-2.2),(37.72,-2.1),(38.32,-2.05),(38.92,-2.2),(39.12,-2.0),(39.5,-2.15),(40.42,-1.9),(40.62,-1.85),(41.02,-1.95),(41.32,-1.85),(41.62,-2.0),(41.92,-2.05),(42.12,-2.1),(42.22,-1.85),(32.42,-1.95),(32.72,-1.8),(33.12,-2.05)]
# Panel 4 body: PRED value, then the WRES values at it
p4_body = [
(26.72,[-1.9,-1.6,-1.3,-1.0,-0.7,-0.4,-0.1,0.2,0.5,0.8,1.1,1.4,1.7,2.0]),(26.78,[-2.0,-1.7,-1.4,-1.1,-0.8,-0.5,-0.2,0.1,0.4,0.7,1.0,1.3,1.6,1.9]),(26.84,[-1.8,-1.5,-1.2,-0.9,-0.6,-0.3,0.0,0.3,0.6,0.9,1.2,1.5,1.8,2.1]),
(26.92,[-1.9,-1.6,-1.3,-1.0,-0.7,-0.4,-0.1,0.2,0.5,0.8,1.1,1.4,1.7]),(27.0,[-1.7,-1.4,-1.1,-0.8,-0.5,-0.2,0.1,0.4,0.7,1.0,1.3,1.6]),(27.08,[-1.9,-1.6,-1.3,-1.0,-0.7,-0.4,-0.1,0.2,0.5,0.8,1.1,1.4,1.7]),
(27.16,[-1.7,-1.4,-1.1,-0.8,-0.5,-0.2,0.1,0.4,0.7,1.0,1.3,1.6]),(27.26,[-1.9,-1.6,-1.2,-0.9,-0.6,-0.3,0.0,0.3,0.6,0.9,1.2,1.5]),(27.36,[-1.7,-1.4,-1.1,-0.8,-0.5,-0.2,0.1,0.4,0.7,1.0,1.3,1.6]),
(27.46,[-1.8,-1.5,-1.2,-0.9,-0.6,-0.3,0.0,0.3,0.6,0.9,1.2,1.5]),(27.56,[-1.7,-1.4,-1.1,-0.8,-0.5,-0.2,0.1,0.4,0.7,1.0,1.3]),(27.66,[-1.8,-1.5,-1.2,-0.9,-0.6,-0.3,0.0,0.3,0.6,0.9,1.2,1.5]),
(27.76,[-1.7,-1.4,-1.1,-0.8,-0.5,-0.2,0.1,0.4,0.7,1.0,1.3,1.6]),(27.86,[-1.7,-1.3,-1.0,-0.7,-0.4,-0.1,0.2,0.5,0.8,1.1,1.4]),(27.96,[-1.6,-1.3,-1.0,-0.7,-0.4,-0.1,0.2,0.5,0.8,1.1,1.3]),
(28.06,[-1.7,-1.4,-1.1,-0.8,-0.5,-0.2,0.1,0.4,0.7,1.0]),(28.16,[-1.5,-1.2,-0.9,-0.6,-0.3,0.0,0.3,0.6,0.9,1.2]),(28.26,[-1.4,-1.1,-0.8,-0.5,-0.2,0.1,0.4,0.7,1.0,1.3]),
(28.36,[-1.3,-1.0,-0.7,-0.4,-0.1,0.2,0.5,0.8,1.0]),(28.46,[-1.2,-0.9,-0.6,-0.3,0.0,0.3,0.6,0.9]),(28.56,[-1.2,-0.8,-0.5,-0.2,0.1,0.4,0.7,1.0]),(28.66,[-1.0,-0.7,-0.4,-0.1,0.2,0.5,0.8]),(28.76,[-0.9,-0.6,-0.3,0.0,0.3,0.6]),(28.86,[-0.9,-0.5,-0.2,0.1,0.4,0.8]),(28.96,[-0.6,-0.3,0.0,0.3,0.5]),
(31.05,[-1.1,-0.7,-0.3,0.1,0.5]),(31.15,[-1.3,-0.9,-0.4,0.0,0.4,0.8]),(31.25,[-1.4,-1.0,-0.6,-0.2,0.2,0.6]),(31.35,[-1.2,-0.8,-0.4,0.0,0.5,0.9]),(31.45,[-1.5,-1.0,-0.6,-0.1,0.3,0.7]),(31.55,[-1.3,-0.8,-0.4,0.0,0.4,0.9]),(31.65,[-1.4,-1.0,-0.5,-0.1,0.3,0.7,1.0]),(31.75,[-1.1,-0.7,-0.2,0.2,0.6]),(31.85,[-1.5,-1.0,-0.5,-0.1,0.4,0.9]),(31.95,[-1.2,-0.8,-0.3,0.1,0.6,1.0]),
(32.05,[-1.4,-0.9,-0.5,0.0,0.5,0.9]),(32.15,[-1.6,-1.1,-0.6,-0.2,0.3,0.7,1.1]),(32.25,[-1.3,-0.8,-0.3,0.1,0.6]),(32.35,[-1.5,-1.0,-0.5,0.0,0.4,0.9]),(32.45,[-1.4,-0.9,-0.4,0.1,0.5,1.0]),(32.55,[-1.6,-1.1,-0.6,-0.1,0.3,0.8]),(32.65,[-1.3,-0.8,-0.3,0.2,0.7,1.1]),(32.75,[-1.5,-1.0,-0.5,0.0,0.4,0.9]),(32.85,[-1.7,-1.2,-0.7,-0.2,0.3,0.8,1.2]),(32.95,[-1.4,-0.9,-0.4,0.1,0.6,1.0]),
(33.05,[-1.6,-1.1,-0.6,-0.1,0.4,0.9]),(33.15,[-1.3,-0.8,-0.3,0.2,0.7,1.2]),(33.25,[-1.5,-1.0,-0.5,0.0,0.5,1.0]),(33.35,[-1.7,-1.2,-0.7,-0.2,0.3,0.8]),(33.45,[-1.4,-0.9,-0.4,0.1,0.6,1.1]),(33.55,[-1.6,-1.1,-0.6,-0.1,0.4,0.9,1.3]),(33.65,[-1.8,-1.3,-0.8,-0.3,0.2,0.7,1.2]),(33.75,[-1.5,-1.0,-0.5,0.0,0.5,1.0]),(33.85,[-1.7,-1.2,-0.7,-0.2,0.3,0.8,1.4]),(33.95,[-1.4,-0.9,-0.4,0.1,0.6,1.1]),
(34.05,[-1.9,-1.3,-0.8,-0.3,0.2,0.7,1.2]),(34.15,[-1.6,-1.1,-0.6,-0.1,0.4,0.9,1.4]),(34.25,[-1.8,-1.2,-0.7,-0.2,0.3,0.8,1.3]),(34.35,[-1.5,-1.0,-0.5,0.0,0.5,1.0,1.5]),(34.45,[-1.7,-1.2,-0.7,-0.2,0.3,0.8]),(34.55,[-1.9,-1.4,-0.9,-0.4,0.1,0.6,1.1,1.5]),(34.65,[-1.6,-1.1,-0.6,-0.1,0.4,0.9,1.3]),(34.75,[-1.8,-1.3,-0.8,-0.3,0.2,0.7,1.2]),(34.85,[-1.5,-1.0,-0.5,0.0,0.5,1.0,1.6]),(34.95,[-1.9,-1.4,-0.9,-0.4,0.1,0.6,1.1]),
(35.05,[-1.7,-1.2,-0.7,-0.2,0.3,0.8,1.4]),(35.15,[-1.5,-1.0,-0.5,0.0,0.5,1.0,1.5]),(35.25,[-2.0,-1.3,-0.8,-0.3,0.2,0.7,1.2]),(35.35,[-1.7,-1.2,-0.7,-0.2,0.3,0.8,1.7]),(35.45,[-1.5,-1.0,-0.5,0.0,0.5,1.1,1.5]),(35.55,[-1.9,-1.4,-0.9,-0.4,0.1,0.6,1.3]),(35.65,[-1.7,-1.1,-0.6,-0.1,0.4,0.9,1.6]),(35.75,[-2.0,-1.3,-0.8,-0.3,0.2,0.7,1.2]),(35.85,[-1.6,-1.1,-0.6,-0.1,0.4,0.9,1.4]),(35.95,[-1.8,-1.3,-0.8,-0.3,0.2,0.8,1.6]),
(36.05,[-1.9,-1.4,-0.9,-0.4,0.1,0.6,1.2]),(36.15,[-1.6,-1.1,-0.6,-0.1,0.4,1.0,1.7]),(36.25,[-2.1,-1.3,-0.8,-0.3,0.2,0.7,1.4]),(36.35,[-1.7,-1.2,-0.7,-0.2,0.3,0.8,1.5]),(36.45,[-2.0,-1.0,-0.5,0.0,0.5,1.1]),(36.55,[-1.5,-1.2,-0.7,-0.3,0.2,0.7,1.6]),(36.65,[-1.8,-1.3,-0.9,-0.4,0.1,0.9,1.3]),(36.75,[-1.6,-1.0,-0.5,0.0,0.6,1.1,1.9]),(36.85,[-1.9,-1.4,-0.8,-0.2,0.3,0.8,1.5]),(36.95,[-1.7,-1.2,-0.6,-0.1,0.4,1.0,1.4]),
(37.05,[-1.6,-1.0,-0.5,0.0,0.5,1.2,1.7]),(37.15,[-1.9,-1.3,-0.8,-0.3,0.2,0.7,1.3]),(37.25,[-1.7,-1.1,-0.6,-0.1,0.4,0.9,1.6]),(37.35,[-1.5,-1.0,-0.5,0.0,0.6,1.1]),(37.45,[-1.8,-1.2,-0.7,-0.2,0.3,0.8,1.4]),(37.55,[-1.6,-1.1,-0.6,-0.1,0.4,1.0,1.8]),(37.65,[-1.9,-1.4,-0.9,-0.4,0.2,0.7,1.2]),(37.75,[-1.7,-1.2,-0.7,-0.2,0.3,0.9,1.5]),(37.85,[-1.5,-1.0,-0.5,0.0,0.5,1.1,1.8]),(37.95,[-2.0,-1.3,-0.8,-0.3,0.2,0.7,1.4]),
(38.05,[-1.7,-1.1,-0.6,-0.1,0.4,1.0,1.6]),(38.15,[-1.6,-1.2,-0.7,-0.2,0.3,0.8,1.3]),(38.25,[-1.9,-1.4,-0.9,-0.4,0.1,0.6,1.7]),(38.35,[-1.5,-1.0,-0.5,0.0,0.5,1.2,1.9]),(38.45,[-1.8,-1.3,-0.8,-0.3,0.2,0.8,1.4]),(38.55,[-1.6,-1.1,-0.6,-0.1,0.5,1.0,1.6]),(38.65,[-2.0,-1.2,-0.7,-0.2,0.3,0.9,1.8]),(38.75,[-1.7,-1.0,-0.5,0.0,0.6,1.2,1.5]),(38.85,[-1.9,-1.4,-0.9,-0.4,0.1,0.7,1.3]),(38.95,[-1.6,-1.1,-0.6,-0.1,0.4,1.0,1.6]),
(39.05,[-1.8,-1.3,-0.8,-0.3,0.2,0.8,1.9]),(39.15,[-2.1,-1.5,-0.7,-0.2,0.4,1.1,1.5]),(39.25,[-1.7,-1.2,-0.6,0.0,0.5,1.3,1.7]),(39.35,[-1.9,-1.0,-0.5,-0.1,0.3,0.9,1.4]),(39.45,[-1.5,-1.1,-0.8,-0.3,0.2,0.7,1.2]),(39.55,[-1.8,-1.3,-0.7,-0.2,0.5,1.0,1.6]),(39.65,[-2.0,-1.4,-0.9,-0.4,0.1,0.8,1.3]),(39.75,[-1.6,-1.0,-0.5,0.0,0.6,1.1,1.8]),(39.85,[-1.9,-1.2,-0.6,-0.1,0.4,0.9,1.5]),(39.95,[-1.7,-1.1,-0.7,-0.3,0.2,0.7,1.2]),
(40.05,[-1.9,-1.4,-0.8,-0.2,0.3,1.0,1.6]),(40.15,[-1.6,-1.0,-0.5,0.1,0.6,1.2]),(40.25,[-1.8,-1.3,-0.7,-0.3,0.2,0.8,1.4]),(40.35,[-1.5,-1.1,-0.6,-0.1,0.4,0.9,1.5]),(40.45,[-1.7,-1.2,-0.8,-0.2,0.3,0.7,1.2]),(40.55,[-1.9,-1.4,-0.9,-0.4,0.1,0.6,1.3]),(40.65,[-1.6,-1.0,-0.5,0.0,0.5,1.0,1.6]),(40.75,[-1.4,-1.1,-0.7,-0.3,0.2,0.8,1.4]),(40.85,[-1.7,-1.2,-0.6,-0.1,0.4,0.9,1.7]),(40.95,[-1.5,-1.0,-0.5,0.1,0.6,1.2,1.9]),
(41.05,[-1.6,-1.1,-0.7,-0.2,0.3,0.8,1.5]),(41.15,[-1.8,-1.3,-0.8,-0.3,0.2,0.7,1.2]),(41.25,[-1.4,-0.9,-0.4,0.1,0.5,1.0,1.6]),(41.35,[-1.6,-1.2,-0.6,-0.1,0.4,1.1,1.8]),(41.45,[-1.5,-1.0,-0.5,0.0,0.6,1.2,1.6]),(41.55,[-1.9,-1.3,-0.8,-0.3,0.3,0.8,1.4]),(41.65,[-1.7,-1.1,-0.7,-0.2,0.4,0.9,1.7]),(41.75,[-1.5,-1.0,-0.5,0.0,0.5,1.1,1.5]),(41.85,[-1.8,-1.4,-0.9,-0.4,0.2,0.7,1.3]),(41.95,[-1.6,-1.1,-0.6,-0.1,0.4,1.0]),
(42.05,[-1.9,-1.4,-0.8,-0.3,0.3,0.8]),(42.15,[-1.7,-1.2,-0.6,-0.1,0.4,0.6]),(42.25,[-1.5,-1.1,-0.7,-0.2,0.2,0.5]),(42.35,[-1.3,-0.9,-0.5,-0.1,0.3]),(42.45,[-1.0,-0.7,-0.3,0.1,0.4]),(42.55,[-0.9,-0.6,-0.2,0.2]),(42.65,[-0.7,-0.3,0.1,0.3]),(42.75,[-0.6,-0.2,0.2,0.4]),(42.85,[-0.6,-0.3,0.0,0.5]),
(43.0,[-0.4,-0.1,0.2,0.4]),(43.15,[-0.5,-0.2,0.1,0.5]),(43.3,[-0.3,0.1,0.4,0.6]),(43.45,[-0.4,-0.1,0.3,0.5]),(43.6,[-0.7,-0.4,0.1,0.3]),(43.75,[-0.5,-0.2,0.2,0.6]),(43.9,[-0.3,0.0,0.4]),(44.05,[-0.6,-0.2,0.3,0.6]),(44.3,[-0.2,0.1]),(44.45,[0.1]),
]


def px_box(left, right, top, bottom):
    return [left / W, 1 - bottom / H, (right - left) / W, (bottom - top) / H]


def expand(points, columns):
    xs = [p[0] for p in points]
    ys = [p[1] for p in points]
    for x, values in columns:
        xs.extend([x] * len(values))
        ys.extend(values)
    return xs, ys


def panel(box, xlim, ylim, xticks, yticks, points, columns, rotate_y, ref):
    ax = fig.add_axes(px_box(*box))
    xs, ys = expand(points, columns)
    ax.plot(xs, ys, ls='none', marker='o', ms=3.95, mfc='none', mec='black', mew=1.1, zorder=2)
    if ref == 'identity':
        ax.axline((50, 50), slope=1, color='black', lw=3.3, zorder=3)
    else:
        ax.axhline(0, color='black', lw=3.3, zorder=3)
    ax.set_xlim(*xlim)
    ax.set_ylim(*ylim)
    for side in ('top', 'right'):
        ax.spines[side].set_visible(False)
    for side in ('left', 'bottom'):
        ax.spines[side].set_linewidth(0.9)
        ax.spines[side].set_color('#222222')
    ax.spines['bottom'].set_bounds(xticks[0], xticks[-1])
    ax.spines['left'].set_bounds(yticks[0], yticks[-1])
    ax.set_xticks(xticks)
    ax.set_yticks(yticks)
    ax.tick_params(axis='x', length=5.2, width=0.9, labelsize=16.6, pad=17)
    if rotate_y:
        ax.tick_params(axis='y', length=5.2, width=0.9, labelsize=16.6, pad=21.5)
        for t in ax.get_yticklabels():
            t.set_rotation(90)
            t.set_va('center')
    else:
        ax.tick_params(axis='y', length=5.2, width=0.9, labelsize=16.6, pad=12)
    return ax


fig = plt.figure(figsize=(W / 100, H / 100), dpi=100)

panel((103, 697, 80, 434), (13.16, 103.5), (13.08, 103.85), ticks_xy, ticks_xy[:], p1_points, p1_band, False, 'identity')
panel((838, 1431, 80, 434), (13.0, 103.2), (13.6, 104.4), ticks_xy, ticks_xy[:], p2_points, p2_body, False, 'identity')
panel((103, 697, 640, 998), (26.10, 46.25), (-20.66, 65.3), ticks_x_pred, ticks_res, p3_points, p3_body, True, 'zero')
panel((838, 1431, 640, 998), (26.06, 46.2), (-7.2, 20.94), ticks_x_pred, ticks_wres, p4_points, p4_body, True, 'zero')

title_xy = [(401, 32), (1137, 32), (401, 592), (1137, 592)]
xlabel_xy = [(401, 519), (1137, 519), (401, 1082), (1137, 1082)]
ylabel_xy = [(27, 257), (765, 257), (27, 819), (763, 821)]
for i in range(4):
    fig.text(title_xy[i][0] / W, 1 - title_xy[i][1] / H, TITLE, fontsize=24.8, ha='center', va='center')
    fig.text(xlabel_xy[i][0] / W, 1 - xlabel_xy[i][1] / H, x_labels[i], fontsize=16.6, ha='center', va='center')
    fig.text(ylabel_xy[i][0] / W, 1 - ylabel_xy[i][1] / H, y_labels[i], fontsize=16.6, ha='center', va='center', rotation=90)

fig.savefig('out.png', dpi=100)
